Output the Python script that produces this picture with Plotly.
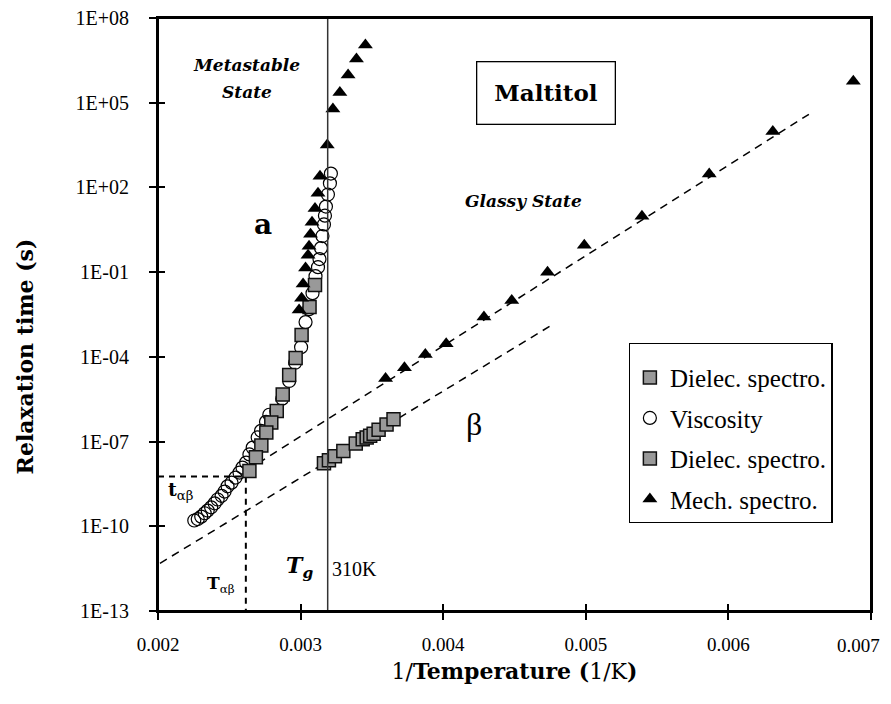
import plotly.graph_objects as go

# ---------------- data ----------------
visc_x = [0.0032125, 0.0032056, 0.0031916, 0.0031777, 0.0031707, 0.0031638, 0.0031533,
          0.0031429, 0.0031324, 0.0031220, 0.0031045, 0.0030836, 0.0030592, 0.0030348,
          0.0030035, 0.0029617, 0.0029199, 0.0028711, 0.0028293, 0.0027805, 0.0027575,
          0.0027227, 0.0026990, 0.0026641, 0.0026411, 0.0026181, 0.0025923, 0.0025714,
          0.0025436, 0.0025157, 0.0024878, 0.0024669, 0.0024460, 0.0024181, 0.0023972,
          0.0023728, 0.0023484, 0.0023275, 0.0023031, 0.0022787, 0.0022544]
visc_y = [3.1e2, 1.4e2, 5.6e1, 2.1e1, 1.0e1, 4.9, 1.9, 0.71, 0.29, 0.15, 0.072, 0.018,
          4.9e-3, 1.7e-3, 2.2e-4, 6.2e-5, 1.4e-5, 3.3e-6, 1.2e-6, 8.9e-7, 5.0e-7, 2.4e-7,
          1.4e-7, 6.1e-8, 3.5e-8, 1.8e-8, 1.2e-8, 8.0e-9, 5.3e-9, 3.5e-9, 2.6e-9, 1.7e-9,
          1.2e-9, 8.9e-10, 6.5e-10, 4.7e-10, 3.6e-10, 2.9e-10, 2.2e-10, 1.8e-10, 1.6e-10]

dielec_alpha_x = [0.0031010, 0.0030627, 0.0030070, 0.0029652, 0.0029199, 0.0028746,
                  0.0028328, 0.0027944, 0.0027596, 0.0027247, 0.0026864, 0.0026411]
dielec_alpha_y = [3.5e-2, 5.8e-3, 6.0e-4, 9.1e-5, 2.3e-5, 4.6e-6, 1.2e-6, 4.7e-7,
                  2.1e-7, 7.2e-8, 2.8e-8, 9.1e-9]

dielec_beta_x = [0.0031638, 0.0031986, 0.0032404, 0.0032997, 0.0033868, 0.0034355,
                 0.0034634, 0.0034878, 0.0035122, 0.0035470, 0.0036028, 0.0036516]
dielec_beta_y = [1.7e-8, 2.2e-8, 3.0e-8, 4.6e-8, 8.5e-8, 1.2e-7, 1.4e-7, 1.6e-7,
                 1.9e-7, 2.6e-7, 4.0e-7, 6.2e-7]

mech_alpha_x = [0.0031359, 0.0031220, 0.0031010, 0.0030801, 0.0030697, 0.0030592,
                0.0030523, 0.0030348, 0.0030174, 0.0030070, 0.0029895]
mech_alpha_y = [2.5e2, 6.2e1, 1.8e1, 5.8, 2.2, 0.83, 0.40, 0.14, 3.8e-2, 1.2e-2, 4.6e-3]

mech_high_x = [0.0031868, 0.0032265, 0.0032753, 0.0033331, 0.0033917, 0.0034544]
mech_high_y = [3.2e3, 6.0e4, 2.3e5, 9.5e5, 3.5e6, 1.1e7]

mech_glass_x = [0.0035958, 0.0037282, 0.0038746, 0.0040209, 0.0042857, 0.0044808,
                0.0047317, 0.0049895, 0.0053937, 0.0058655, 0.0063115, 0.0068760]
mech_glass_y = [1.7e-5, 4.1e-5, 1.2e-4, 2.9e-4, 2.6e-3, 1.0e-2, 1.0e-1, 0.89, 9.5,
                3.0e2, 9.5e3, 5.8e5]

fit_upper_x = [0.0026202, 0.0065645]
fit_upper_y = [9.4e-9, 3.9e4]
fit_lower_x = [0.0020139, 0.0047456]
fit_lower_y = [4.9e-12, 1.2e-3]

t_ab = 5.8e-9          # crossover relaxation time
inv_T_ab = 0.002616    # crossover 1/T
inv_Tg = 0.00319       # glass transition (310 K)

x_ticks = [0.002, 0.003, 0.004, 0.005, 0.006, 0.007]
x_ticktext = ["0.002", "0.003", "0.004", "0.005", "0.006", "0.007"]
y_ticks = [1e-13, 1e-10, 1e-7, 1e-4, 1e-1, 1e2, 1e5, 1e8]
y_ticktext = ["1E-13", "1E-10", "1E-07", "1E-04", "1E-01", "1E+02", "1E+05", "1E+08"]
x_range = [0.002, 0.007]
y_range_log = [-13, 8]

SERIF = "Liberation Serif"
BSERIF = "DejaVu Serif"   # has real bold / bold-italic faces
GRAY = "#999999"

fig = go.Figure()

fig.add_trace(go.Scatter(x=fit_upper_x, y=fit_upper_y, mode="lines",
                         line=dict(color="black", width=1.5, dash="8px,6px"),
                         showlegend=False, hoverinfo="skip"))
fig.add_trace(go.Scatter(x=fit_lower_x, y=fit_lower_y, mode="lines",
                         line=dict(color="black", width=1.5, dash="8px,6px"),
                         showlegend=False, hoverinfo="skip"))
fig.add_trace(go.Scatter(x=[x_range[0], inv_T_ab, inv_T_ab],
                         y=[t_ab, t_ab, 10 ** y_range_log[0]], mode="lines",
                         line=dict(color="black", width=2, dash="6px,5px"),
                         showlegend=False, hoverinfo="skip"))

fig.add_trace(go.Scatter(x=visc_x, y=visc_y, mode="markers", name="Viscosity",
                         legendgroup="b", legendrank=2,
                         marker=dict(symbol="circle-open", size=13,
                                     color="black", line=dict(width=1.2, color="black"))))
fig.add_trace(go.Scatter(x=dielec_alpha_x, y=dielec_alpha_y, mode="markers",
                         name="Dielec. spectro.", legendgroup="a", legendrank=1,
                         marker=dict(symbol="square", size=13, color=GRAY,
                                     line=dict(width=1.5, color="#111111"))))
fig.add_trace(go.Scatter(x=dielec_beta_x, y=dielec_beta_y, mode="markers",
                         name="Dielec. spectro.", legendgroup="c", legendrank=3,
                         marker=dict(symbol="square", size=13, color=GRAY,
                                     line=dict(width=1.5, color="#111111"))))
fig.add_trace(go.Scatter(x=mech_alpha_x + mech_high_x + mech_glass_x,
                         y=mech_alpha_y + mech_high_y + mech_glass_y, mode="markers",
                         name="Mech. spectro.", legendgroup="d", legendrank=4,
                         marker=dict(symbol="triangle-up", size=13, color="black",
                                     line=dict(width=0))))

fig.add_trace(go.Scatter(x=[], y=[], xaxis="x2", yaxis="y2", showlegend=False,
                         hoverinfo="skip"))

# Tg reference line and plot frame
fig.add_shape(type="line", xref="x", yref="paper", x0=inv_Tg, x1=inv_Tg, y0=0, y1=1,
              line=dict(color="#333333", width=1.5))
fig.add_shape(type="rect", xref="paper", yref="paper", x0=0, x1=1, y0=0, y1=1,
              line=dict(color="black", width=2), layer="above")

annotations = [
    dict(text="<b>Maltitol</b>", x=0.5436, y=0.874, font=dict(size=23, family=BSERIF),
         bordercolor="black", borderwidth=1.3, borderpad=17, bgcolor="white"),
    dict(text="<b><i>Metastable</i></b>", x=0.1245, y=0.920, font=dict(size=17, family=BSERIF)),
    dict(text="<b><i>State</i></b>", x=0.1245, y=0.876, font=dict(size=17, family=BSERIF)),
    dict(text="<b><i>Glassy State</i></b>", x=0.512, y=0.692, font=dict(size=17, family=BSERIF)),
    dict(text="<b>a</b>", x=0.1469, y=0.652, font=dict(size=28, family=BSERIF)),
    dict(text="β", x=0.4434, y=0.316, font=dict(size=32, family=SERIF)),
    dict(text="<b><i>T<sub>g</sub></i></b>", x=0.1986, y=0.074, font=dict(size=22, family=BSERIF)),
    dict(text="310K", x=0.2755, y=0.0706, font=dict(size=20, family=SERIF)),
    dict(text="<b>t</b><sub>αβ</sub>", x=0.0112, y=0.203, xanchor="left",
         font=dict(size=19, family=BSERIF)),
    dict(text="<b>T</b><sub>αβ</sub>", x=0.0657, y=0.045, xanchor="left",
         font=dict(size=17, family=BSERIF)),
    # y-axis title (placed like the reference, slightly below the plot's middle)
    dict(text="<b>Relaxation time (s)</b>", x=-0.186, y=0.43, textangle=-90,
         font=dict(size=22, family=BSERIF)),
]
for a in annotations:
    a.setdefault("xanchor", "center")
    a["font"]["color"] = "black"
    a.update(xref="paper", yref="paper", yanchor="middle", showarrow=False)

# last x tick label drawn right-aligned so that it stays inside the figure
annotations.append(dict(text=x_ticktext[-1], xref="x", x=x_ticks[-1], yref="paper", y=0,
                        xanchor="right", yanchor="middle", xshift=11, yshift=-34,
                        showarrow=False, font=dict(size=19, family=SERIF, color="black")))
x_ticktext_shown = x_ticktext[:-1] + [""]

axis_common = dict(showgrid=False, zeroline=False, tickcolor="black", tickwidth=1.5,
                   ticklen=7, automargin=False)

fig.update_layout(
    # the page body adds an 8px offset on every side, so the figure is sized to fit the window
    width=875, height=688,
    margin=dict(l=150, r=12, t=10, b=85),
    paper_bgcolor="white", plot_bgcolor="white",
    font=dict(family=SERIF, color="black", size=20),
    annotations=annotations,
    xaxis=dict(range=x_range, tickvals=x_ticks, ticktext=x_ticktext_shown, ticks="outside",
               showline=True, linewidth=2, linecolor="black", mirror=True,
               tickfont=dict(size=19, family=SERIF), ticklabelstandoff=8,
               ticklabeloverflow="allow",
               title=dict(text="1/<b>Temperature (</b>1/K<b>)</b>",
                          font=dict(size=22, family=BSERIF), standoff=10),
               **axis_common),
    yaxis=dict(type="log", range=y_range_log, tickvals=y_ticks, ticktext=y_ticktext,
               ticks="outside", showline=True, linewidth=2, linecolor="black", mirror=True,
               tickfont=dict(size=20, family=SERIF), ticklabelstandoff=16,
               ticklabeloverflow="allow", **axis_common),
    xaxis2=dict(range=x_range, tickvals=x_ticks, ticks="inside", overlaying="x",
                anchor="y2", side="bottom", showticklabels=False, showline=False,
                **axis_common),
    yaxis2=dict(type="log", range=y_range_log, tickvals=y_ticks, ticks="inside",
                overlaying="y", anchor="x2", side="left", showticklabels=False,
                showline=False, **axis_common),
    legend=dict(x=0.660, y=0.452, xanchor="left", yanchor="top",
                bgcolor="white", bordercolor="black", borderwidth=1.3,
                font=dict(size=25, family=SERIF), traceorder="grouped",
                tracegroupgap=5, itemwidth=30,
                title=dict(text=" ", font=dict(size=8))),
    showlegend=True,
)

fig.write_html("out.html")
